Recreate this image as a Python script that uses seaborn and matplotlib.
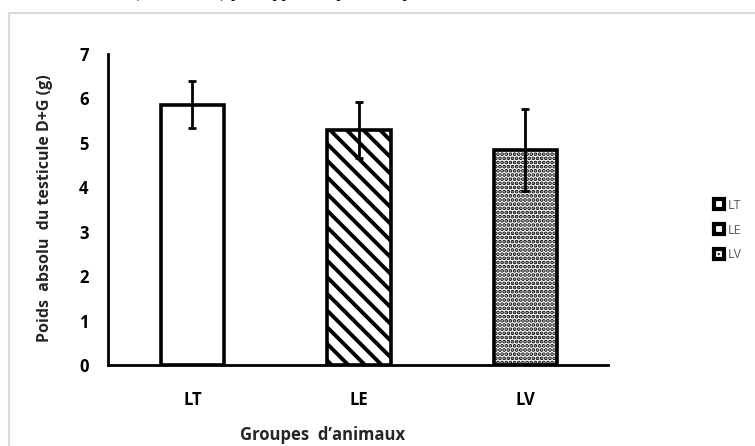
import matplotlib
matplotlib.use("Agg")
import matplotlib.pyplot as plt
import seaborn as sns
import pandas as pd
from matplotlib.patches import Rectangle, Patch

groups = ["LT", "LE", "LV"]
means = [5.86, 5.28, 4.84]
errors = [0.53, 0.63, 0.93]
hatches = ["", "\\\\", "...."]
hatch_widths = [2.0, 2.8, 1.9]
yticks = [0, 1, 2, 3, 4, 5, 6, 7]

sns.set_theme(style="white")
plt.rcParams["font.family"] = ["Open Sans", "DejaVu Sans"]
plt.rcParams["hatch.color"] = "black"


def set_hlw(p, w):
    if hasattr(p, "set_hatch_linewidth"):
        p.set_hatch_linewidth(w)
    else:
        p._hatch_linewidth = w


df = pd.DataFrame({"groupe": groups, "poids": means})

fig = plt.figure(figsize=(7.55, 4.46), dpi=100)
fig.patch.set_facecolor("white")
# light frame of the chart area
fig.patches.append(Rectangle((9 / 755, -0.1), 1.2, (446 - 13) / 446 + 0.1,
                             transform=fig.transFigure, fill=False,
                             edgecolor="#d9d9d9", linewidth=1.5))
# clipped caption fragment above the chart
fig.text(133 / 755, 1 + 3 / 446, "(LT, LE, LV) par rapport au poids corporel",
         family=["Liberation Serif"], fontsize=13, va="baseline", ha="left",
         color="black")

ax = fig.add_axes([108 / 755, 1 - 365 / 446, 500 / 755, (365 - 54) / 446])
sns.barplot(data=df, x="groupe", y="poids", ax=ax, color="white",
            edgecolor="black", linewidth=2.6, width=0.38, errorbar=None,
            saturation=1)
for patch, h, w in zip(ax.patches, hatches, hatch_widths):
    patch.set_facecolor("white")
    patch.set_hatch(h)
    set_hlw(patch, w)
    patch.set_joinstyle("miter")

ax.errorbar(range(len(groups)), means, yerr=errors, fmt="none", ecolor="black",
            elinewidth=2, capsize=3, capthick=2, zorder=5)

ax.set_ylim(0, 7)
ax.set_xlim(-0.507, 2.496)
ax.set_yticks(yticks)
ax.set_yticklabels([str(t) for t in yticks])
ax.tick_params(axis="both", length=0, labelsize=12, colors="black")
ax.tick_params(axis="y", pad=14)
ax.tick_params(axis="x", pad=19)
for lab in ax.get_xticklabels() + ax.get_yticklabels():
    lab.set_fontweight("bold")
ax.set_xlabel("")
ax.set_ylabel("")
for s in ["top", "right"]:
    ax.spines[s].set_visible(False)
for s in ["left", "bottom"]:
    ax.spines[s].set_color("black")
    ax.spines[s].set_linewidth(2)

fig.text(323 / 755, 1 - 435 / 446, "Groupes  d\u2019animaux", ha="center",
         va="center", fontsize=12, fontweight="bold")
fig.text(45 / 755, 1 - 208 / 446, "Poids  absolu  du testicule D+G (g)",
         ha="center", va="center", rotation=90, fontsize=11.5,
         fontweight="bold")

handles = []
for g, h, w in zip(groups, hatches, hatch_widths):
    p = Patch(facecolor="white", edgecolor="black", linewidth=3.0,
              hatch=h, label=g)
    set_hlw(p, w)
    handles.append(p)
leg = fig.legend(handles=handles, loc="center left",
                 bbox_to_anchor=(708 / 755, 1 - 230 / 446), frameon=False,
                 fontsize=9, handlelength=0.8, handleheight=0.85,
                 handletextpad=0.25, labelspacing=0.95, borderpad=0)
for t in leg.get_texts():
    t.set_color("#595959")

fig.savefig("out.png", dpi=100)
